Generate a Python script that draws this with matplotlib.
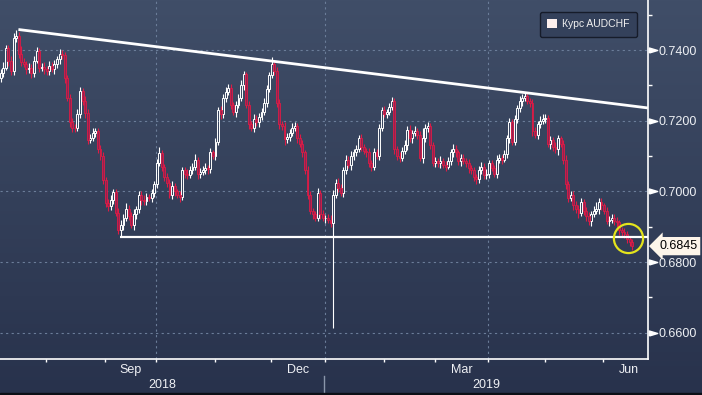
import numpy as np
import pandas as pd
import matplotlib
matplotlib.use('Agg')
import matplotlib.pyplot as plt
from matplotlib.patches import Patch, Rectangle

# daily candles AUDCHF, Jul 6 2018 - Jun 18 2019 (values in pips, /10000)
closes = [
    7335, 7350, 7405, 7370, 7340, 7435, 7440, 7390, 7365, 7360,
    7345, 7350, 7335, 7370, 7398, 7350, 7352, 7345, 7340, 7356,
    7345, 7360, 7375, 7390, 7385, 7320, 7265, 7195, 7180, 7178,
    7220, 7284, 7255, 7222, 7146, 7150, 7165, 7170, 7120, 7100,
    7032, 6966, 6958, 6975, 6998, 6940, 6890, 6905, 6925, 6950,
    6930, 6905, 6935, 6950, 6990, 6975, 6972, 6985, 6980, 6995,
    7020, 7080, 7108, 7070, 7040, 7025, 6990, 7015, 7000, 6990,
    6985, 7060, 7050, 7045, 7060, 7070, 7090, 7050, 7055, 7060,
    7065, 7062, 7110, 7100, 7140, 7230, 7218, 7265, 7280, 7293,
    7245, 7225, 7245, 7265, 7300, 7331, 7245, 7190, 7180, 7205,
    7195, 7210, 7225, 7250, 7290, 7330, 7360, 7340, 7250, 7190,
    7185, 7147, 7155, 7165, 7180, 7185, 7150, 7135, 7110, 7060,
    6990, 6945, 6935, 6925, 6995, 6935, 6925, 6925, 6920, 6910,
    6990, 7025, 7010, 6995, 7060, 7090, 7075, 7100, 7110, 7120,
    7150, 7125, 7115, 7110, 7080, 7070, 7110, 7100, 7180, 7230,
    7220, 7225, 7240, 7255, 7120, 7100, 7095, 7115, 7130, 7175,
    7150, 7165, 7170, 7160, 7095, 7150, 7180, 7185, 7130, 7080,
    7085, 7080, 7085, 7075, 7070, 7085, 7110, 7120, 7110, 7085,
    7095, 7085, 7080, 7065, 7060, 7040, 7035, 7060, 7070, 7045,
    7050, 7080, 7065, 7050, 7090, 7095, 7090, 7105, 7150, 7195,
    7140, 7205, 7235, 7255, 7265, 7270, 7255, 7250, 7170, 7160,
    7190, 7200, 7205, 7208, 7135, 7145, 7125, 7120, 7150, 7135,
    7090, 7020, 6980, 6990, 6960, 6950, 6940, 6970, 6945, 6930,
    6915, 6935, 6945, 6950, 6970, 6960, 6945, 6915, 6920, 6925,
    6915, 6912, 6890, 6885, 6880, 6865, 6858, 6845,
]
first_open = 7320

upper_wick = [
    12, 15, 10, 8, 14, 12, 18, 10, 20, 12,
    10, 14, 10, 12, 10, 8, 12, 14, 10, 12,
    10, 12, 8, 14, 10, 10, 8, 10, 12, 10,
    12, 10, 8, 14, 10, 12, 14, 10, 8, 10,
    10, 8, 12, 14, 10, 8, 12, 14, 10, 18,
    10, 12, 14, 8, 12, 10, 14, 10, 8, 12,
    10, 12, 17, 10, 8, 12, 10, 14, 10, 8,
    12, 10, 8, 14, 12, 10, 15, 8, 10, 12,
    14, 10, 12, 8, 12, 10, 12, 10, 14, 12,
    10, 8, 12, 10, 14, 10, 8, 12, 10, 14,
    10, 12, 10, 14, 10, 8, 19, 10, 12, 10,
    8, 12, 10, 12, 14, 10, 8, 12, 10, 8,
    12, 10, 8, 10, 15, 10, 12, 8, 10, 12,
    14, 10, 12, 10, 8, 12, 10, 14, 10, 12,
    10, 12, 10, 8, 12, 10, 14, 10, 12, 10,
    12, 8, 10, 12, 10, 8, 12, 10, 14, 10,
    12, 10, 14, 10, 12, 30, 10, 12, 8, 10,
    12, 10, 14, 8, 10, 12, 10, 14, 10, 8,
    12, 10, 8, 12, 10, 8, 10, 12, 14, 10,
    12, 10, 8, 10, 12, 10, 8, 12, 10, 12,
    10, 12, 10, 14, 10, 10, 12, 8, 10, 12,
    10, 12, 14, 10, 8, 12, 10, 14, 10, 8,
    10, 12, 8, 12, 10, 14, 10, 12, 8, 10,
    12, 10, 14, 20, 12, 10, 8, 12, 10, 12,
    10, 12, 8, 10, 12, 8, 10, 6,
]
lower_wick = [
    10, 12, 8, 14, 12, 10, 12, 14, 10, 8,
    12, 10, 14, 10, 8, 12, 10, 14, 12, 10,
    8, 12, 10, 14, 10, 12, 10, 14, 12, 10,
    8, 12, 10, 14, 12, 10, 8, 10, 12, 10,
    12, 10, 14, 10, 12, 10, 12, 18, 14, 10,
    12, 10, 15, 12, 10, 14, 10, 12, 8, 10,
    12, 10, 8, 12, 10, 14, 10, 12, 14, 10,
    15, 10, 12, 10, 8, 12, 10, 14, 12, 10,
    10, 12, 10, 8, 12, 10, 14, 10, 12, 8,
    12, 10, 14, 10, 8, 12, 10, 14, 10, 12,
    10, 12, 8, 10, 12, 10, 8, 12, 10, 14,
    12, 15, 10, 12, 8, 10, 12, 10, 14, 10,
    12, 10, 14, 10, 8, 12, 10, 14, 10, 12,
    297, 10, 12, 8, 10, 12, 10, 14, 12, 10,
    8, 12, 10, 14, 10, 12, 10, 8, 12, 10,
    10, 12, 8, 10, 14, 10, 12, 10, 8, 12,
    10, 12, 8, 12, 10, 14, 10, 12, 10, 8,
    12, 10, 14, 10, 12, 8, 10, 12, 14, 10,
    12, 8, 10, 14, 12, 10, 15, 10, 12, 10,
    10, 12, 8, 10, 12, 10, 14, 8, 10, 12,
    10, 8, 12, 10, 14, 10, 8, 12, 14, 10,
    12, 10, 8, 12, 10, 14, 10, 12, 18, 10,
    12, 14, 10, 8, 12, 10, 14, 10, 12, 14,
    10, 12, 8, 10, 14, 12, 10, 8, 12, 10,
    10, 12, 14, 10, 12, 10, 14, 10,
]

# drawn trend lines (x in trading-day index)
resistance_x = [6.9, 253.2]
resistance_y = [0.7458, 0.7236]
support_x = [46.6, 253.2]
support_y = [0.6872, 0.6872]
last_price = 0.6845
circle_x, circle_y = 245.4, 0.6867

month_labels = {(2018, 9): 'Sep', (2018, 12): 'Dec', (2019, 3): 'Mar', (2019, 6): 'Jun'}
yticks = [0.66, 0.68, 0.70, 0.72, 0.74]
yminor = [0.67, 0.69, 0.71, 0.73, 0.75]

plt.rcParams['font.family'] = ['Liberation Sans', 'DejaVu Sans']

days = pd.bdate_range('2018-07-06', '2019-07-31')
n = len(closes)
x = np.arange(n)
c = np.array(closes) / 10000
o = np.array([first_open] + closes[:-1]) / 10000
top = np.maximum(o, c)
bot = np.minimum(o, c)
hi = top + np.array(upper_wick) / 10000
lo = bot - np.array(lower_wick) / 10000
up = c >= o

W, H = 702, 395
fig = plt.figure(figsize=(W / 100, H / 100), dpi=100)

# gradient background
bg = fig.add_axes([0, 0, 1, 1], zorder=-10)
top_col = np.array([64, 78, 104]) / 255
bot_col = np.array([40, 50, 76]) / 255
t = np.linspace(0, 1, 200)[:, None]
grad = (top_col[None, :] * (1 - t) + bot_col[None, :] * t)[:, None, :]
bg.imshow(grad, aspect='auto', extent=[0, 1, 0, 1])
bg.axis('off')
fig.patches.append(Rectangle((0, 0), 1, 2.5 / H, transform=fig.transFigure,
                             color='#0c0f16', zorder=5))

ax = fig.add_axes([0, 1 - 359 / H, 648 / W, 359 / H])
ax.patch.set_alpha(0)
ax.set_xlim(-0.3, 253.2)
ax.set_ylim(0.65256, 0.75415)

# month boundaries
starts = [i for i in range(1, len(days)) if days[i].month != days[i - 1].month]
ticks = [s - 0.25 for s in starts if s < 254]
ax.set_xticks(ticks)
ax.set_xticklabels([])
ax.tick_params(axis='x', direction='out', length=2.5, width=1, color='white')

# grid
for s in starts:
    if days[s].month in (1, 4, 10) and s < 254:
        ax.axvline(s - 0.25, color='#6b7d99', lw=0.8, ls=(0, (2, 3)), zorder=0)
for yv in yticks:
    ax.axhline(yv, color='#6b7d99', lw=0.8, ls=(0, (2, 3)), zorder=0)

# candles
wick_up = '#ffffff'
red_edge = '#dc1c46'
ax.vlines(x[up], lo[up], bot[up], color=wick_up, lw=0.8, zorder=2)
ax.vlines(x[up], top[up], hi[up], color=wick_up, lw=0.8, zorder=2)
ax.vlines(x[~up], lo[~up], hi[~up], color=red_edge, lw=0.8, zorder=2)
ax.bar(x[up], np.maximum(top[up] - bot[up], 0.0001), bottom=bot[up], width=0.75,
       facecolor='none', edgecolor='white', lw=0.7, zorder=3)
ax.bar(x[~up], np.maximum(top[~up] - bot[~up], 0.0001), bottom=bot[~up], width=0.75,
       facecolor='#962050', edgecolor=red_edge, lw=0.6, zorder=3)

# trend lines
ax.plot(resistance_x, resistance_y, color='white', lw=2, solid_capstyle='butt', zorder=4)
ax.plot(support_x, support_y, color='white', lw=1.6, solid_capstyle='butt', zorder=4)
ax.plot([circle_x], [circle_y], 'o', ms=21, mfc='none', mec='#e4e41c', mew=1.6,
        zorder=6, clip_on=False)

# right axis
ax.yaxis.tick_right()
ax.set_yticks(yticks)
ax.set_yticklabels(['%.4f' % v for v in yticks])
ax.set_yticks(yminor, minor=True)
ax.tick_params(axis='y', which='major', length=0, pad=7.5, labelsize=9, labelcolor='#eef0f4')
ax.tick_params(axis='y', which='minor', length=3, width=1, color='white')
ytr = ax.get_yaxis_transform()
ax.plot([652.5 / 648] * len(yticks), yticks, ls='none',
        marker=[(-1, -0.6), (1, 0), (-1, 0.6), (-1, -0.6)], ms=6,
        color='white', transform=ytr, clip_on=False)

for side in ['top', 'left']:
    ax.spines[side].set_visible(False)
for side in ['right', 'bottom']:
    ax.spines[side].set_color('white')
    ax.spines[side].set_linewidth(1.2)

# last price box
ax.text(659 / 648, last_price, '%.4f' % last_price, transform=ytr, ha='left', va='center',
        fontsize=9, color='black', zorder=7,
        bbox=dict(boxstyle='larrow,pad=0.25', fc='#fdf5ea', ec='none'))

# month / year labels
xtr = ax.get_xaxis_transform()
for (yr, mo), lab in month_labels.items():
    s = [i for i in starts if days[i].year == yr and days[i].month == mo][0]
    e = [i for i in starts if i > s][0]
    ax.text((s + e) / 2 - 0.25, -11 / 359, lab, transform=xtr, ha='center', va='center',
            fontsize=9, color='#eef0f4')
jan = [i for i in starts if days[i].year == 2019 and days[i].month == 1][0] - 0.5
ax.text((jan - 0.3) / 2, -26 / 359, '2018', transform=xtr, ha='center', va='center',
        fontsize=9, color='#eef0f4')
ax.text((jan + 253.2) / 2, -26 / 359, '2019', transform=xtr, ha='center', va='center',
        fontsize=9, color='#eef0f4')
ax.plot([jan, jan], [-17 / 359, -34 / 359], color='#8a96aa', lw=1, transform=xtr,
        clip_on=False)

leg = ax.legend(handles=[Patch(fc='#fdf0ee', ec='none')], labels=['Курс AUDCHF'],
                loc='upper right', bbox_to_anchor=(637 / 648, 1 - 12 / 359),
                borderaxespad=0, fontsize=7.5, labelcolor='#f0f0f0',
                handlelength=0.95, handleheight=0.95, handletextpad=0.5,
                borderpad=0.7, fancybox=True, framealpha=1,
                facecolor='#34415b', edgecolor='#161c2a')
leg.get_frame().set_linewidth(1)

fig.savefig('out.png', dpi=100)
